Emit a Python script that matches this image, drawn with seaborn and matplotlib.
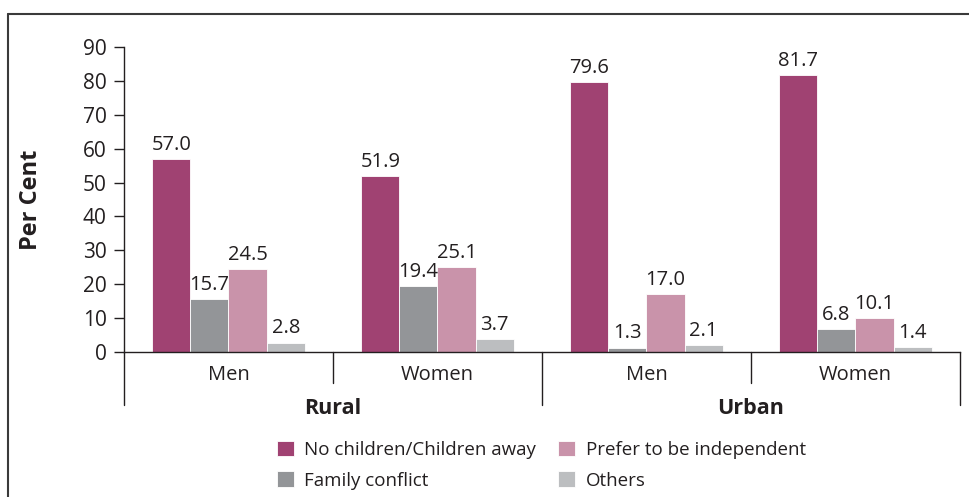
import matplotlib
matplotlib.use("Agg")
import matplotlib.pyplot as plt
from matplotlib.lines import Line2D
import seaborn as sns
import pandas as pd

groups = ["Rural Men", "Rural Women", "Urban Men", "Urban Women"]
tick_labels = ["Men", "Women", "Men", "Women"]
areas = ["Rural", "Urban"]
reasons = ["No children/Children away", "Family conflict", "Prefer to be independent", "Others"]
no_children = [57.0, 51.9, 79.6, 81.7]
family_conflict = [15.7, 19.4, 1.3, 6.8]
prefer_independent = [24.5, 25.1, 17.0, 10.1]
others = [2.8, 3.7, 2.1, 1.4]
colors = ["#A04272", "#939598", "#C993AA", "#BCBEC0"]

rows = []
for r, vals in zip(reasons, [no_children, family_conflict, prefer_independent, others]):
    for g, v in zip(groups, vals):
        rows.append({"group": g, "reason": r, "value": v})
df = pd.DataFrame(rows)

sns.set_theme(style="white")
plt.rcParams['font.family'] = ['Open Sans', 'DejaVu Sans']
ink = "#231f20"

fig = plt.figure(figsize=(9.7, 4.97), dpi=100)
ax = fig.add_axes([124/970, 1-352/497, (960-124)/970, (352-47)/497])

sns.barplot(data=df, x="group", y="value", hue="reason", order=groups,
            hue_order=reasons, palette=colors, saturation=1, width=0.73,
            edgecolor="white", linewidth=0.6, ax=ax)

for c in ax.containers:
    ax.bar_label(c, fmt="%.1f", padding=3, fontsize=14.5, color=ink)

ax.set_ylim(0, 90)
ax.set_xlim(-0.5, 3.5)
ax.set_yticks(range(0, 91, 10))
ax.set_xticks(range(4))
ax.set_xticklabels(tick_labels)
ax.tick_params(axis="y", length=7.5, width=1, color=ink, labelsize=15, labelcolor=ink, pad=5, left=True)
ax.tick_params(axis="x", length=0, labelsize=14.5, labelcolor=ink, pad=9)
for s in ["top", "right"]:
    ax.spines[s].set_visible(False)
for s in ["left", "bottom"]:
    ax.spines[s].set_color(ink)
    ax.spines[s].set_linewidth(1)
ax.set_xlabel("")
ax.set_ylabel("Per Cent", fontsize=17, fontweight="bold", color=ink)
ax.yaxis.set_label_coords(-0.097, 0.5)

tr = ax.get_xaxis_transform()
for x in [-0.5, 1.5, 3.5]:
    ax.plot([x, x], [0, -0.174], transform=tr, color=ink, lw=1, clip_on=False)
for x in [0.5, 2.5]:
    ax.plot([x, x], [0, -0.10], transform=tr, color=ink, lw=1, clip_on=False)
for i, a in enumerate(areas):
    ax.text(0.5 + 2*i, -0.184, a, transform=tr, ha="center", va="center",
            fontsize=15.5, fontweight="bold", color=ink)

handles, labels = ax.get_legend_handles_labels()
ax.get_legend().remove()
fig.legend(handles, labels, ncol=2, loc="upper left",
           bbox_to_anchor=(260/970, 1-424/497), frameon=False, fontsize=13.5,
           handlelength=0.9, handleheight=0.9, handletextpad=0.55,
           columnspacing=1.2, labelspacing=0.65, labelcolor=ink)

fy = 1 - 14/497
fx = 8/970
fig.add_artist(Line2D([fx, 1], [fy, fy], transform=fig.transFigure, color="#3a3a3a", lw=1.5))
fig.add_artist(Line2D([fx, fx], [0, fy], transform=fig.transFigure, color="#3a3a3a", lw=1.5))

fig.savefig("out.png", dpi=100)
